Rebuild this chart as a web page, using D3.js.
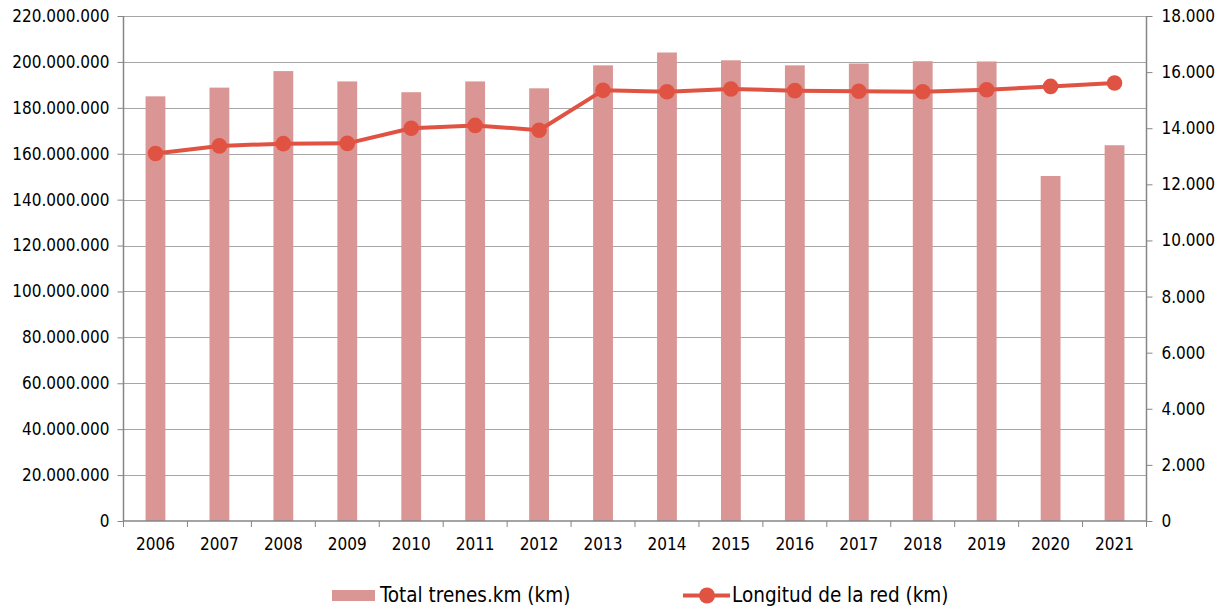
<!DOCTYPE html>
<html>
<head>
<meta charset="utf-8">
<script src="https://cdn.jsdelivr.net/npm/d3@7/dist/d3.min.js"></script>
<style>
  html, body { margin: 0; padding: 0; background: #fff; }
  svg text { font-family: "DejaVu Sans Condensed", "DejaVu Sans", sans-serif; fill: #000; }
</style>
</head>
<body>
<svg id="chart" width="1228" height="611"></svg>
<script>
// ===== Datos =====
const years = ["2006","2007","2008","2009","2010","2011","2012","2013","2014","2015","2016","2017","2018","2019","2020","2021"];
const trenesKm = [185000000, 188800000, 196000000, 191500000, 186800000, 191500000, 188500000, 198500000,
                  204100000, 200700000, 198500000, 199300000, 200300000, 200200000, 150300000, 163700000];
const longitudRed = [13100, 13370, 13450, 13460, 14000, 14100, 13930, 15350,
                     15300, 15400, 15340, 15320, 15300, 15370, 15490, 15610];
const leftTicks = d3.range(0, 220000001, 20000000);
const rightTicks = d3.range(0, 18001, 2000);

const svg = d3.select("#chart");

// Area del grafico
const pLeft = 123.5, pRight = 1146.5, pTop = 16, pBottom = 521;
const barColor = "#D99694";
const lineColor = "#E05343";
const axisColor = "#868686";
const fmt = d3.formatLocale({ decimal: ",", thousands: ".", grouping: [3], currency: ["", ""] }).format(",d");

const x = d3.scaleBand().domain(years).range([pLeft, pRight]).paddingInner(0.69).paddingOuter(0.345);
const yL = d3.scaleLinear().domain([0, 220000000]).range([pBottom, pTop]);
const yR = d3.scaleLinear().domain([0, 18000]).range([pBottom, pTop]);

// Lineas de cuadricula
svg.append("g")
  .selectAll("line")
  .data(leftTicks.slice(1))
  .join("line")
  .attr("x1", pLeft).attr("x2", pRight)
  .attr("y1", d => Math.round(yL(d)) + 0.5)
  .attr("y2", d => Math.round(yL(d)) + 0.5)
  .attr("stroke", "#A6A6A6")
  .attr("stroke-width", 1);

// Barras
svg.append("g")
  .selectAll("rect")
  .data(years)
  .join("rect")
  .attr("x", d => x(d))
  .attr("width", x.bandwidth())
  .attr("y", (d, i) => yL(trenesKm[i]))
  .attr("height", (d, i) => pBottom - yL(trenesKm[i]))
  .attr("fill", barColor);

// Ejes Y
const gL = svg.append("g").attr("transform", `translate(${pLeft},0)`)
  .call(d3.axisLeft(yL).tickValues(leftTicks).tickFormat(fmt).tickSize(6).tickPadding(8));
const gR = svg.append("g").attr("transform", `translate(${pRight},0)`)
  .call(d3.axisRight(yR).tickValues(rightTicks).tickFormat(fmt).tickSize(6).tickPadding(9));

[gL, gR].forEach(g => {
  g.select(".domain").remove();
  g.selectAll(".tick line").attr("stroke", axisColor);
  g.selectAll(".tick text").attr("font-size", "17px").attr("fill", "#000")
    .attr("font-family", "'DejaVu Sans Condensed', 'DejaVu Sans', sans-serif");
});

svg.append("line").attr("x1", pLeft).attr("x2", pLeft).attr("y1", pTop).attr("y2", pBottom)
  .attr("stroke", axisColor).attr("stroke-width", 1.5);
svg.append("line").attr("x1", pRight).attr("x2", pRight).attr("y1", pTop).attr("y2", pBottom)
  .attr("stroke", axisColor).attr("stroke-width", 1.5);

// Eje X
const step = x.step();
svg.append("line").attr("x1", pLeft).attr("x2", pRight).attr("y1", pBottom).attr("y2", pBottom)
  .attr("stroke", axisColor).attr("stroke-width", 1.5);
svg.append("g")
  .selectAll("line")
  .data(d3.range(years.length + 1))
  .join("line")
  .attr("x1", i => pLeft + i * step).attr("x2", i => pLeft + i * step)
  .attr("y1", pBottom).attr("y2", pBottom + 6)
  .attr("stroke", axisColor);
svg.append("g")
  .selectAll("text")
  .data(years)
  .join("text")
  .attr("x", d => x(d) + x.bandwidth() / 2)
  .attr("y", 550)
  .attr("text-anchor", "middle")
  .attr("font-size", "17px")
  .text(d => d);

// Linea
const cx = d => x(d) + x.bandwidth() / 2;
svg.append("path")
  .datum(years)
  .attr("fill", "none")
  .attr("stroke", lineColor)
  .attr("stroke-width", 4)
  .attr("stroke-linejoin", "round")
  .attr("d", d3.line().x(cx).y((d, i) => yR(longitudRed[i])));

svg.append("g")
  .selectAll("circle")
  .data(years)
  .join("circle")
  .attr("cx", cx)
  .attr("cy", (d, i) => yR(longitudRed[i]))
  .attr("r", 7.8)
  .attr("fill", lineColor);

// Leyenda
const leg = svg.append("g");
leg.append("rect").attr("x", 332).attr("y", 590).attr("width", 43).attr("height", 11).attr("fill", barColor);
leg.append("text").attr("x", 380).attr("y", 602).attr("font-size", "20.5px").text("Total trenes.km (km)");
leg.append("line").attr("x1", 683).attr("x2", 730).attr("y1", 595.5).attr("y2", 595.5)
  .attr("stroke", lineColor).attr("stroke-width", 4);
leg.append("circle").attr("cx", 707).attr("cy", 595.5).attr("r", 8).attr("fill", lineColor);
leg.append("text").attr("x", 732).attr("y", 602).attr("font-size", "20.5px").text("Longitud de la red (km)");
</script>
</body>
</html>
